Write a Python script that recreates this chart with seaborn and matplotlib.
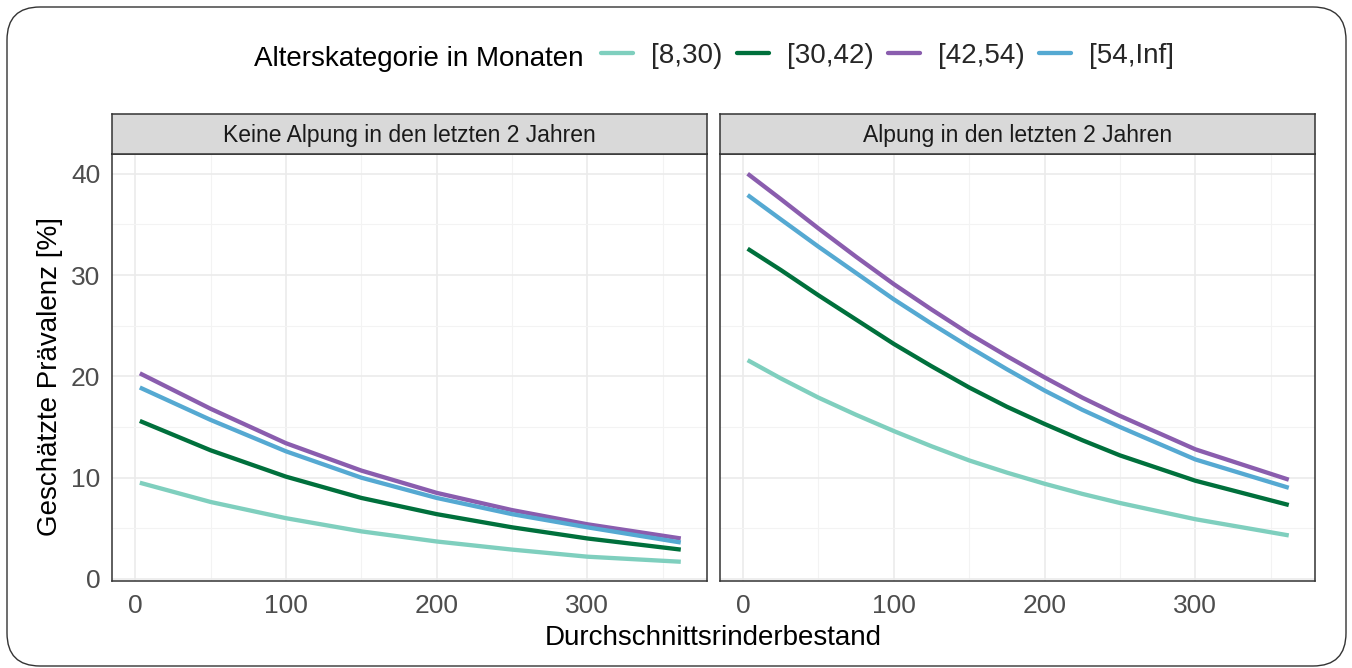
import numpy as np
import pandas as pd
import matplotlib
matplotlib.use("Agg")
import matplotlib.pyplot as plt
import seaborn as sns
from matplotlib.patches import FancyBboxPatch
from matplotlib.lines import Line2D

# ---------------- data ----------------
categories = ["[8,30)", "[30,42)", "[42,54)", "[54,Inf]"]
facets = ["Keine Alpung in den letzten 2 Jahren", "Alpung in den letzten 2 Jahren"]

# Keine Alpung
x_keine = [3, 50, 100, 150, 200, 250, 300, 362]
keine_8_30 = [9.5, 7.6, 6.0, 4.7, 3.7, 2.9, 2.2, 1.7]
keine_30_42 = [15.6, 12.7, 10.1, 8.0, 6.4, 5.1, 4.0, 2.9]
keine_42_54 = [20.3, 16.8, 13.4, 10.7, 8.5, 6.8, 5.4, 4.0]
keine_54_inf = [18.9, 15.7, 12.6, 10.0, 8.0, 6.4, 5.1, 3.6]

# Alpung
x_alp = [3, 25, 50, 75, 100, 125, 150, 175, 200, 225, 250, 300, 362]
alp_8_30 = [21.6, 19.8, 17.9, 16.2, 14.6, 13.1, 11.7, 10.5, 9.4, 8.4, 7.5, 5.9, 4.3]
alp_30_42 = [32.6, 30.5, 28.0, 25.6, 23.2, 21.0, 18.9, 17.0, 15.3, 13.7, 12.2, 9.7, 7.3]
alp_42_54 = [40.0, 37.5, 34.6, 31.8, 29.1, 26.6, 24.2, 22.0, 19.9, 17.9, 16.1, 12.8, 9.8]
alp_54_inf = [37.9, 35.5, 32.8, 30.2, 27.6, 25.2, 22.9, 20.7, 18.6, 16.7, 15.0, 11.8, 9.0]

y_ticks = [0, 10, 20, 30, 40]
x_ticks = [0, 100, 200, 300]

palette = {"[8,30)": "#7FCFBE", "[30,42)": "#00703C",
           "[42,54)": "#8A5DAE", "[54,Inf]": "#55A9D2"}

series = {
    facets[0]: (x_keine, [keine_8_30, keine_30_42, keine_42_54, keine_54_inf]),
    facets[1]: (x_alp, [alp_8_30, alp_30_42, alp_42_54, alp_54_inf]),
}
rows = []
for fac, (xs, lst) in series.items():
    for cat, vals in zip(categories, lst):
        for xv, yv in zip(xs, vals):
            rows.append({"facet": fac, "Alter": cat, "x": xv, "y": yv})
df = pd.DataFrame(rows)

# ---------------- figure ----------------
sns.set_theme(style="white")
plt.rcParams["font.family"] = ["Liberation Sans", "DejaVu Sans"]

W, H = 1352, 668
fig = plt.figure(figsize=(W / 100, H / 100), dpi=100)
fig.patch.set_facecolor("white")

def fx(px):
    return px / W

def fy(py):  # py measured from top
    return 1 - py / H

panel_top, panel_bot = 154, 581
strip_top = 114
panels_x = [(111.7, 707), (719.5, 1315)]

for i, (fac, (x0, x1)) in enumerate(zip(facets, panels_x)):
    ax = fig.add_axes([fx(x0), fy(panel_bot), fx(x1 - x0), (panel_bot - panel_top) / H])
    sub = df[df["facet"] == fac]
    sns.lineplot(data=sub, x="x", y="y", hue="Alter", hue_order=categories,
                 palette=palette, linewidth=3.1, ax=ax, legend=False, sort=True)
    for ln in ax.lines:
        ln.set_solid_joinstyle("round")
        ln.set_solid_capstyle("butt")
    ax.set_xlim(-15.66, 379.4)
    ax.set_ylim(-0.2, 41.95)
    ax.set_xticks(x_ticks)
    ax.set_yticks(y_ticks)
    ax.set_xticks([50, 150, 250, 350], minor=True)
    ax.set_yticks([5, 15, 25, 35], minor=True)
    ax.grid(True, which="major", color="#EBEBEB", linewidth=1.2)
    ax.grid(True, which="minor", color="#F3F3F3", linewidth=0.8)
    ax.set_axisbelow(True)
    for s in ax.spines.values():
        s.set_color("#333333")
        s.set_linewidth(1.1)
    ax.tick_params(which="major", direction="out", length=4.3, width=1.0,
                   color="#333333", labelsize=19, labelcolor="#4D4D4D")
    ax.tick_params(axis="x", which="major", pad=5.0)
    ax.tick_params(axis="y", which="major", pad=4.0)
    ax.tick_params(which="minor", length=0)
    ax.set_xlabel("")
    ax.set_ylabel("")
    if i == 1:
        ax.tick_params(axis="y", which="both", left=False, labelleft=False)

    # strip
    sax = fig.add_axes([fx(x0), fy(panel_top), fx(x1 - x0), (panel_top - strip_top) / H])
    sax.set_facecolor("#D9D9D9")
    sax.set_xticks([])
    sax.set_yticks([])
    for s in sax.spines.values():
        s.set_color("#333333")
        s.set_linewidth(1.1)
    sax.text(0.5, fy(142), fac, ha="center", va="baseline", fontsize=16.5,
             color="#1A1A1A", transform=matplotlib.transforms.blended_transform_factory(
                 sax.transAxes, fig.transFigure))

# axis titles
fig.text(fx(50), fy(377), "Geschätzte Prävalenz [%]", rotation=90,
         ha="center", va="center", fontsize=20, color="black")
fig.text(fx(713), fy(645), "Durchschnittsrinderbestand",
         ha="center", va="baseline", fontsize=20, color="black")

# legend
fig.text(fx(583), fy(66), "Alterskategorie in Monaten", ha="right", va="baseline",
         fontsize=20, color="black")
handles = [Line2D([0], [0], color=palette[c], linewidth=3.1) for c in categories]
fig.legend(handles, categories, loc="center left", bbox_to_anchor=(fx(601), fy(56)),
           ncol=4, frameon=False, fontsize=20, handlelength=1.15, handletextpad=0.65,
           columnspacing=0.52, borderaxespad=0, borderpad=0)

# rounded outer border
border = FancyBboxPatch((0.07, 0.02), 13.39, 6.59,
                        boxstyle="round,pad=0,rounding_size=0.33",
                        transform=fig.dpi_scale_trans, facecolor="none",
                        edgecolor="#333333", linewidth=1.0, zorder=-1)
fig.patches.append(border)

fig.savefig("out.png", dpi=100)
